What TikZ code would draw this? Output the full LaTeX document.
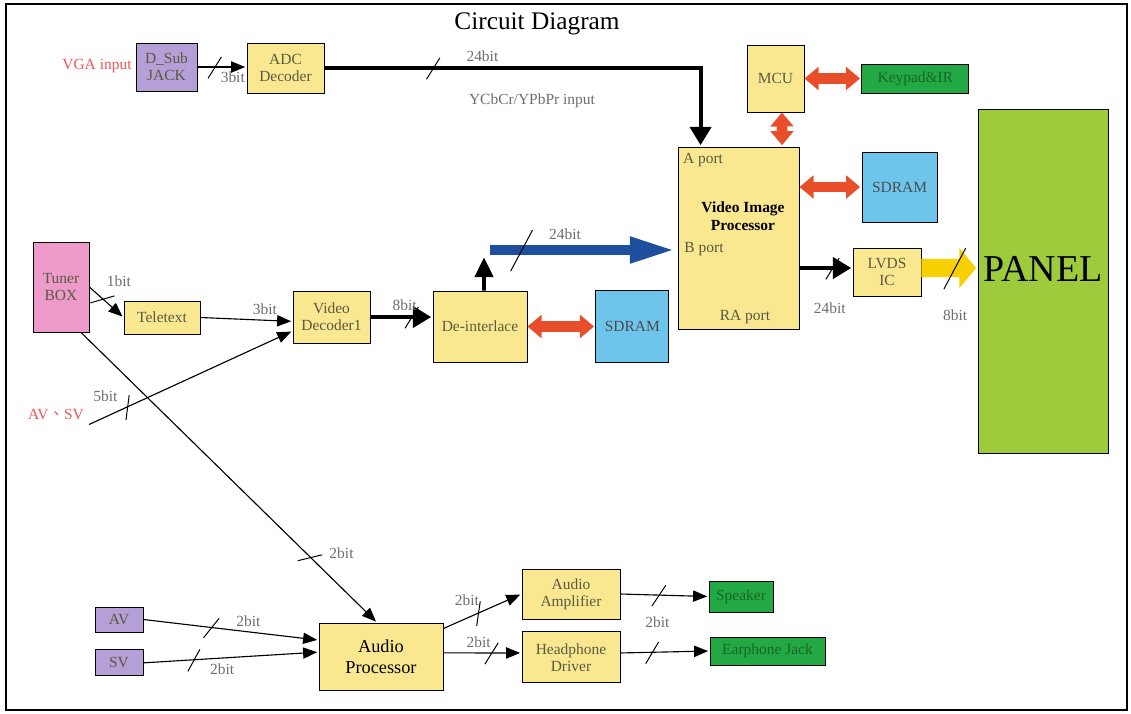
\documentclass[tikz,border=0pt]{standalone}
\usepackage{fontspec}
\setmainfont{Liberation Serif}
\newfontfamily\cjk{Noto Sans CJK TC}
\usepackage{tikz}
\usetikzlibrary{arrows.meta,positioning,decorations.markings}
\definecolor{boxyellow}{HTML}{FAE891}
\definecolor{subpurple}{HTML}{B49FD6}
\definecolor{tunerpink}{HTML}{EE9ACB}
\definecolor{sdramblue}{HTML}{6DC5EC}
\definecolor{keygreen}{HTML}{23A943}
\definecolor{panelgreen}{HTML}{9ECB3C}
\definecolor{redarrow}{HTML}{E94E2B}
\definecolor{bluearrow}{HTML}{1E4F9F}
\definecolor{yellowarrow}{HTML}{F8CF00}
\definecolor{redtext}{HTML}{F05555}
\definecolor{labelgray}{HTML}{6E6E6E}
\definecolor{inktext}{HTML}{5A5A40}
\definecolor{greenink}{HTML}{17662A}
\tikzset{busmark/.style={postaction={decorate,decoration={markings,
    mark=at position #1 with {\draw[-,black,line width=0.7pt] (-5pt,-8pt) -- (5pt,8pt);}}}},
  widemark/.style={postaction={decorate,decoration={markings,
    mark=at position #1 with {\draw[-,black,line width=0.7pt] (-8pt,-15pt) -- (8pt,15pt);}}}}}

\begin{document}
\begin{tikzpicture}[x=0.025cm,y=-0.025cm,->,>={Triangle[length=10pt,width=8pt]},
                    shorten >=1pt,thick]
  \tikzstyle{box}=[rectangle,draw=black,semithick,fill=boxyellow,text=inktext,align=center,
                   inner sep=1pt,font=\fontsize{11}{12}\selectfont]
  \tikzstyle{lbl}=[font=\fontsize{11}{12}\selectfont,text=labelgray]
  \tikzstyle{redtxt}=[font=\fontsize{11}{12}\selectfont,text=redtext]
  \tikzstyle{bus}=[line width=2.8pt,-{Triangle[length=13pt,width=15pt]}]
  \tikzstyle{dual}=[draw=redarrow,line width=7.5pt,
                    {Triangle[length=10pt,width=16pt]}-{Triangle[length=10pt,width=16pt]}]
  \tikzstyle{bluebus}=[draw=bluearrow,line width=7.5pt,-{Triangle[length=33pt,width=17pt]}]
  \tikzstyle{yellowbus}=[draw=yellowarrow,line width=13pt,-{Triangle[length=12pt,width=28pt]}]

  \useasboundingbox (0,0) rectangle (1131,713);
  \draw[-,line width=1.4pt] (6,4) rectangle (1127,710);

  \node[font=\fontsize{18}{20}\selectfont] (title) at (537,24) {Circuit Diagram};

  % top row
  \node[box,fill=subpurple,minimum width=1.525cm,minimum height=1.2cm] (dsub) at (166.5,67) {D\_Sub\\JACK};
  \node[redtxt] (vga) at (97,66) {VGA input};
  \node[box,minimum width=1.925cm,minimum height=1.25cm] (adc) at (285.5,68) {ADC\\Decoder};
  \node[lbl] (ycbcr) at (532,101) {YCbCr/YPbPr input};
  \node[box,minimum width=1.425cm,minimum height=1.675cm] (mcu) at (775.5,78.5) {MCU};
  \node[box,fill=keygreen,text=greenink,minimum width=2.675cm,minimum height=0.725cm] (keypad) [right=1.425cm of mcu] {Keypad\&IR};

  % video image processor
  \node[box,minimum width=3.025cm,minimum height=4.55cm] (vip) at (738.5,238) {};
  \node[font=\fontsize{11}{13}\selectfont\bfseries,align=center] (viptitle) at (743,216) {Video Image\\Processor};
  \node[lbl,text=inktext] (aportlbl) at (703,160) {A port};
  \node[lbl,text=inktext] (bportlbl) at (704,249) {B port};
  \node[lbl,text=inktext] (raportlbl) at (745,317) {RA port};
  \node[box,fill=sdramblue,text=black!70,minimum width=1.875cm,minimum height=1.75cm] (sdramA) at (899.5,187) {SDRAM};
  \node[box,minimum width=1.7cm,minimum height=1.2cm] (lvds) at (887,272) {LVDS\\IC};
  \node[box,fill=panelgreen,minimum width=3.25cm,minimum height=8.6cm] (panel) at (1043,281) {};
  \node[font=\fontsize{27}{29}\selectfont] (paneltext) at (1043,269) {PANEL};

  % video path
  \node[box,fill=tunerpink,minimum width=1.4cm,minimum height=2.25cm] (tuner) at (61,287) {Tuner\\BOX};
  \node[box,minimum width=1.9cm,minimum height=0.825cm] (teletext) at (162,317.5) {Teletext};
  \node[box,minimum width=1.925cm,minimum height=1.3cm] (vdec) at (331.5,317) {Video\\Decoder1};
  \node[box,minimum width=2.35cm,minimum height=1.775cm] (deint) at (480,326.5) {De-interlace};
  \node[box,fill=sdramblue,text=black!70,minimum width=1.825cm,minimum height=1.8cm] (sdramB) [right=1.7cm of deint] {SDRAM};
  \node[redtxt] (avsv) at (56,414) {AV{\cjk 、}SV};
  \coordinate (upend) at (484,256);
  \coordinate (bbus) at (490,250);

  % audio path
  \node[box,fill=subpurple,minimum width=1.2cm,minimum height=0.625cm] (av) at (119,619.5) {AV};
  \node[box,fill=subpurple,minimum width=1.2cm,minimum height=0.65cm] (sv) [below=0.425cm of av] {SV};
  \node[box,text=black,font=\fontsize{13}{15}\selectfont,minimum width=3.1cm,minimum height=1.675cm] (ap) at (381,656.5) {Audio\\Processor};
  \node[box,minimum width=2.45cm,minimum height=1.25cm] (amp) at (571,594) {Audio\\Amplifier};
  \node[box,minimum width=2.45cm,minimum height=1.275cm] (hpd) [below=0.3cm of amp] {Headphone\\Driver};
  \node[box,fill=keygreen,text=greenink,minimum width=1.6cm,minimum height=0.775cm] (speaker) at (741,596.5) {Speaker};
  \node[box,fill=keygreen,text=greenink,minimum width=2.875cm,minimum height=0.7cm] (earjack) at (767.5,651) {Earphone Jack};

  \path
(dsub.east) edge[busmark=.36] node[lbl,pos=.72,below]{3bit} (dsub.east -| adc.west)
(tuner.east) edge[busmark=.4] node[lbl,pos=.15,above right,xshift=5pt]{1bit} (teletext.west)
(teletext.east) edge node[lbl,pos=.7,above]{3bit} ([yshift=-0.11cm]vdec.west)
(avsv.south east) edge[busmark=.19] node[lbl,pos=.08,above=7pt]{5bit} ([yshift=-0.35cm]vdec.west)
([xshift=0.5cm]tuner.south) edge[busmark=.776] node[lbl,pos=.76,right=13pt]{2bit} ([xshift=-0.1cm]ap.north)
(av.east) edge[busmark=.39] node[lbl,pos=.6,above]{2bit} ([yshift=0.41cm]ap.west)
(sv.east) edge[busmark=.29] node[lbl,pos=.45,below]{2bit} ([yshift=0.11cm]ap.west)
([yshift=0.7cm]ap.east) edge[busmark=.45] node[lbl,pos=.3,above=5pt]{2bit} (amp.west)
([yshift=0.09cm]ap.east) edge[busmark=.62] node[lbl,pos=.45,above]{2bit} ([yshift=0.11cm]hpd.west)
(amp.east) edge[busmark=.44] node[lbl,pos=.42,below=12pt]{2bit} (speaker.west)
([yshift=0.11cm]hpd.east) edge[busmark=.36] (earjack.west)
;

  % buses
  \draw[bus,busmark=.24] (adc.east) -| node[lbl,pos=.21,above]{24bit} ([xshift=0.575cm]vip.north west);
  \draw[bus,busmark=.67] (vdec.east) -- node[lbl,pos=.55,above]{8bit} (vdec.east -| deint.west);
  \draw[bus,line width=2.5pt,-{Triangle[length=14pt,width=13pt]}] ([xshift=0.1cm]deint.north) -- (upend);
  \draw[bluebus,widemark=.17] (bbus) -- node[lbl,pos=.4,above]{24bit} (bbus -| vip.west);
  \draw[bus,busmark=.63] ([yshift=-0.75cm]vip.east) -- node[lbl,pos=.57,below=20pt]{24bit} ([yshift=0.1cm]lvds.west);
  \draw[yellowbus,widemark=.6] ([yshift=0.1cm]lvds.east) -- node[lbl,pos=.6,below=20pt]{8bit} ([yshift=0.325cm]panel.west);

  % memory and control links
  \draw[dual] (mcu.east) -- (mcu.east -| keypad.west);
  \draw[dual] ([xshift=0.16cm]mcu.south) -- ([xshift=1.09cm]vip.north);
  \draw[dual] (sdramA.west -| vip.east) -- (sdramA.west);
  \draw[dual] (deint.east) -- (deint.east -| sdramB.west);

\end{tikzpicture}
\end{document}
